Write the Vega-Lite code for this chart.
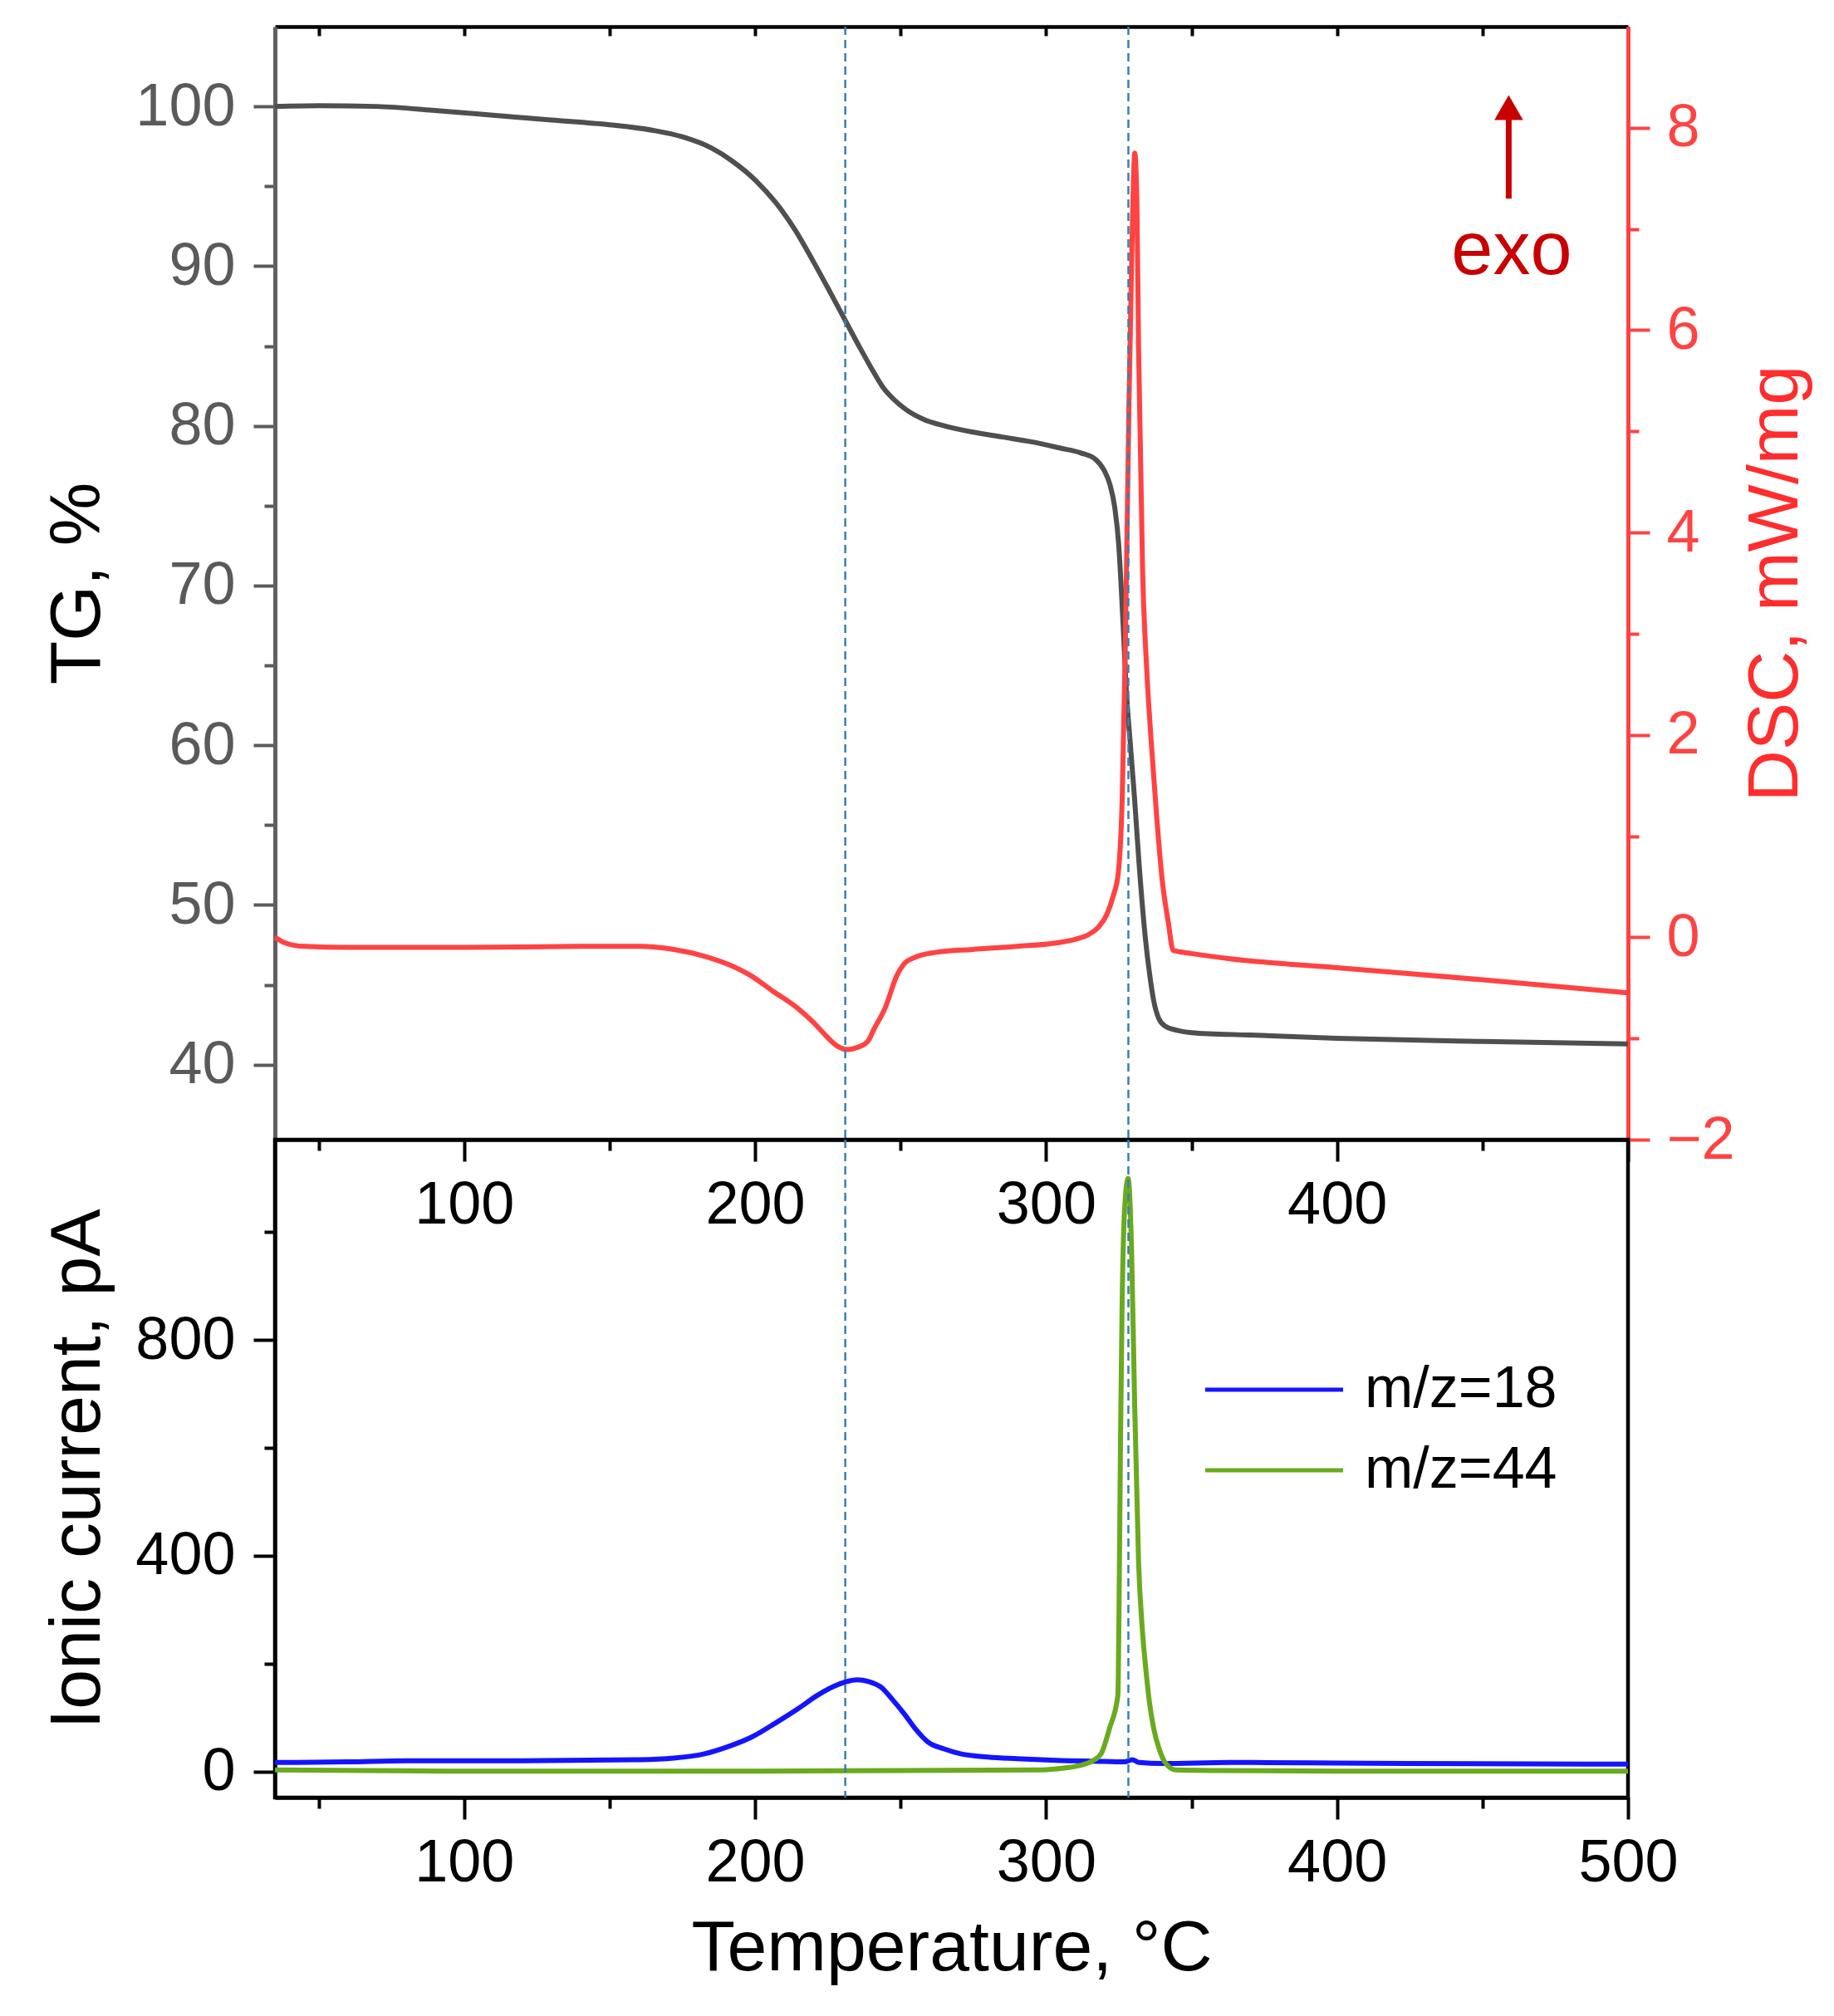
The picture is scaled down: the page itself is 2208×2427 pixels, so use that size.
{
  "$schema": "https://vega.github.io/schema/vega-lite/v6.json",
  "background": "white",
  "padding": {"left": 47, "top": 30, "right": 10, "bottom": 10},
  "autosize": {"type": "pad"},
  "spacing": 0,
  "bounds": "flush",
  "config": {
    "view": {"stroke": null},
    "axis": {"labelFont": "Liberation Sans", "titleFont": "Liberation Sans", "titleFontWeight": "normal", "grid": false, "labelFlush": false, "labelOverlap": false},
    "legend": {"labelFont": "Liberation Sans"},
    "text": {"font": "Liberation Sans"}
  },
  "datasets": {
    "tg": [
      {"T": 35, "TG": 100.0}, {"T": 50, "TG": 100.05}, {"T": 70, "TG": 100.0}, {"T": 90, "TG": 99.75},
      {"T": 110, "TG": 99.45}, {"T": 130, "TG": 99.15}, {"T": 150, "TG": 98.85}, {"T": 165, "TG": 98.5},
      {"T": 175, "TG": 98.1}, {"T": 185, "TG": 97.4}, {"T": 192, "TG": 96.6}, {"T": 200, "TG": 95.4},
      {"T": 207, "TG": 94.0}, {"T": 214, "TG": 92.2}, {"T": 220, "TG": 90.3}, {"T": 226, "TG": 88.3},
      {"T": 231, "TG": 86.6}, {"T": 236, "TG": 84.9}, {"T": 240, "TG": 83.6}, {"T": 244, "TG": 82.4},
      {"T": 248, "TG": 81.6}, {"T": 252, "TG": 81.0}, {"T": 258, "TG": 80.4}, {"T": 265, "TG": 80.0},
      {"T": 275, "TG": 79.6}, {"T": 285, "TG": 79.3}, {"T": 295, "TG": 79.0}, {"T": 305, "TG": 78.6},
      {"T": 312, "TG": 78.3}, {"T": 317, "TG": 77.9}, {"T": 320, "TG": 77.2}, {"T": 322, "TG": 76.3},
      {"T": 323.6, "TG": 74.9}, {"T": 325, "TG": 72.5}, {"T": 325.6, "TG": 70.7}, {"T": 326.5, "TG": 67.5},
      {"T": 327.5, "TG": 63.7}, {"T": 329, "TG": 60.0}, {"T": 330.4, "TG": 56.7}, {"T": 332, "TG": 52.5},
      {"T": 334.2, "TG": 47.8}, {"T": 335.5, "TG": 45.8}, {"T": 337, "TG": 44.0}, {"T": 338.7, "TG": 42.9},
      {"T": 341, "TG": 42.4}, {"T": 345, "TG": 42.15}, {"T": 350, "TG": 42.0}, {"T": 370, "TG": 41.85},
      {"T": 400, "TG": 41.65}, {"T": 450, "TG": 41.45}, {"T": 500, "TG": 41.3}
    ],
    "dsc": [
      {"T": 35, "DSC": 0.0}, {"T": 38, "DSC": -0.05}, {"T": 45, "DSC": -0.09}, {"T": 60, "DSC": -0.1},
      {"T": 100, "DSC": -0.1}, {"T": 140, "DSC": -0.09}, {"T": 160, "DSC": -0.09}, {"T": 172, "DSC": -0.12},
      {"T": 183, "DSC": -0.19}, {"T": 191, "DSC": -0.27}, {"T": 198.6, "DSC": -0.38}, {"T": 206, "DSC": -0.53},
      {"T": 214.6, "DSC": -0.7}, {"T": 220, "DSC": -0.84}, {"T": 224.6, "DSC": -0.98}, {"T": 228, "DSC": -1.07},
      {"T": 231.7, "DSC": -1.11}, {"T": 235, "DSC": -1.09}, {"T": 238.7, "DSC": -1.03}, {"T": 241, "DSC": -0.9},
      {"T": 244.7, "DSC": -0.7}, {"T": 248.7, "DSC": -0.38}, {"T": 251, "DSC": -0.27}, {"T": 254.8, "DSC": -0.2},
      {"T": 262, "DSC": -0.15}, {"T": 274.8, "DSC": -0.12}, {"T": 290, "DSC": -0.09}, {"T": 304.8, "DSC": -0.05},
      {"T": 310, "DSC": -0.02}, {"T": 314.8, "DSC": 0.03}, {"T": 318, "DSC": 0.1}, {"T": 320.8, "DSC": 0.22},
      {"T": 323, "DSC": 0.4}, {"T": 324.8, "DSC": 0.63}, {"T": 326.2, "DSC": 1.4}, {"T": 327.2, "DSC": 2.8},
      {"T": 328.5, "DSC": 5.27}, {"T": 329.5, "DSC": 6.8}, {"T": 330.5, "DSC": 7.75}, {"T": 331.2, "DSC": 7.3},
      {"T": 331.8, "DSC": 5.82}, {"T": 333.2, "DSC": 3.6}, {"T": 334.5, "DSC": 2.7}, {"T": 336.1, "DSC": 1.95},
      {"T": 338, "DSC": 1.2}, {"T": 339.9, "DSC": 0.57}, {"T": 342, "DSC": 0.15}, {"T": 343.7, "DSC": -0.13},
      {"T": 350, "DSC": -0.16}, {"T": 362.7, "DSC": -0.21}, {"T": 400, "DSC": -0.3}, {"T": 450, "DSC": -0.42},
      {"T": 500, "DSC": -0.55}
    ],
    "ms": [
      {"T": 35, "I": 17, "series": "m/z=18"}, {"T": 60, "I": 18, "series": "m/z=18"}, {"T": 80, "I": 20, "series": "m/z=18"},
      {"T": 120, "I": 20, "series": "m/z=18"}, {"T": 160, "I": 22, "series": "m/z=18"}, {"T": 172, "I": 25, "series": "m/z=18"},
      {"T": 182.6, "I": 33, "series": "m/z=18"}, {"T": 190, "I": 45, "series": "m/z=18"}, {"T": 198.8, "I": 64, "series": "m/z=18"},
      {"T": 207, "I": 90, "series": "m/z=18"}, {"T": 214.9, "I": 117, "series": "m/z=18"}, {"T": 221, "I": 140, "series": "m/z=18"},
      {"T": 227, "I": 158, "series": "m/z=18"}, {"T": 231, "I": 166, "series": "m/z=18"}, {"T": 235, "I": 170, "series": "m/z=18"},
      {"T": 239, "I": 167, "series": "m/z=18"}, {"T": 243.4, "I": 156, "series": "m/z=18"}, {"T": 247, "I": 135, "series": "m/z=18"},
      {"T": 251.4, "I": 106, "series": "m/z=18"}, {"T": 255, "I": 80, "series": "m/z=18"}, {"T": 259.4, "I": 55, "series": "m/z=18"},
      {"T": 265, "I": 42, "series": "m/z=18"}, {"T": 270.7, "I": 33, "series": "m/z=18"}, {"T": 280, "I": 27, "series": "m/z=18"},
      {"T": 290, "I": 24, "series": "m/z=18"}, {"T": 303.6, "I": 21, "series": "m/z=18"}, {"T": 320, "I": 19, "series": "m/z=18"},
      {"T": 327, "I": 18, "series": "m/z=18"}, {"T": 329.6, "I": 22, "series": "m/z=18"}, {"T": 332, "I": 17, "series": "m/z=18"},
      {"T": 340, "I": 15, "series": "m/z=18"}, {"T": 363, "I": 17, "series": "m/z=18"}, {"T": 400, "I": 16, "series": "m/z=18"},
      {"T": 423.8, "I": 15, "series": "m/z=18"}, {"T": 500, "I": 14, "series": "m/z=18"},
      {"T": 35, "I": 3, "series": "m/z=44"}, {"T": 100, "I": 1, "series": "m/z=44"}, {"T": 200, "I": 1, "series": "m/z=44"},
      {"T": 250, "I": 2, "series": "m/z=44"}, {"T": 297, "I": 3, "series": "m/z=44"}, {"T": 305, "I": 6, "series": "m/z=44"},
      {"T": 311.3, "I": 11, "series": "m/z=44"}, {"T": 316, "I": 20, "series": "m/z=44"}, {"T": 319, "I": 34, "series": "m/z=44"},
      {"T": 321.8, "I": 80, "series": "m/z=44"}, {"T": 324.7, "I": 142, "series": "m/z=44"}, {"T": 325.1, "I": 311, "series": "m/z=44"},
      {"T": 325.6, "I": 618, "series": "m/z=44"}, {"T": 326.1, "I": 849, "series": "m/z=44"}, {"T": 327, "I": 1042, "series": "m/z=44"},
      {"T": 328.2, "I": 1099, "series": "m/z=44"}, {"T": 329.4, "I": 965, "series": "m/z=44"}, {"T": 330.4, "I": 695, "series": "m/z=44"},
      {"T": 331.8, "I": 388, "series": "m/z=44"}, {"T": 333, "I": 270, "series": "m/z=44"}, {"T": 334.2, "I": 195, "series": "m/z=44"},
      {"T": 335.5, "I": 130, "series": "m/z=44"}, {"T": 337, "I": 80, "series": "m/z=44"}, {"T": 339, "I": 40, "series": "m/z=44"},
      {"T": 340.8, "I": 18, "series": "m/z=44"}, {"T": 344.6, "I": 3, "series": "m/z=44"}, {"T": 360, "I": 2, "series": "m/z=44"},
      {"T": 400, "I": 1, "series": "m/z=44"}, {"T": 500, "I": 1, "series": "m/z=44"}
    ],
    "vlines": [{"T": 231}, {"T": 328.3}],
    "one": [{}]
  },
  "vconcat": [
    {
      "width": 1629,
      "height": 1340,
      "resolve": {"scale": {"x": "independent", "y": "independent"}, "axis": {"x": "independent", "y": "independent"}},
      "layer": [
        {
          "data": {"name": "tg"},
          "mark": {"type": "line", "color": "#4f4f4f", "strokeWidth": 6, "interpolate": "monotone"},
          "encoding": {
            "x": {"field": "T", "type": "quantitative", "scale": {"domain": [35, 500], "nice": false, "zero": false},
              "axis": {"orient": "bottom", "title": null, "values": [50, 100, 150, 200, 250, 300, 350, 400, 450, 500],
                "labelExpr": "datum.value % 100 == 0 && datum.value < 500 ? datum.label : ''",
                "tickSize": {"condition": {"test": "datum.value % 100 != 0", "value": 13}, "value": 26},
                "tickWidth": 4, "tickColor": "black", "domainColor": "black", "domainWidth": 4.5,
                "labelPadding": 17, "labelFontSize": 72, "labelColor": "black"}},
            "y": {"field": "TG", "type": "quantitative", "scale": {"domain": [35.3, 105], "nice": false, "zero": false},
              "axis": {"orient": "left", "title": "TG, %", "titleFontSize": 86, "titleColor": "black", "titlePadding": 21,
                "values": [40, 45, 50, 55, 60, 65, 70, 75, 80, 85, 90, 95, 100],
                "labelExpr": "datum.value % 10 == 0 ? datum.label : ''",
                "tickSize": {"condition": {"test": "datum.value % 10 != 0", "value": 13}, "value": 26},
                "tickWidth": 4, "tickColor": "#5a5a5a", "domainColor": "#606060", "domainWidth": 5,
                "labelPadding": 22, "labelFontSize": 72, "labelColor": "#5a5a5a",
                "minExtent": 173, "maxExtent": 173}}
          }
        },
        {
          "layer": [
            {
              "data": {"name": "dsc"},
              "mark": {"type": "line", "color": "#ff4242", "strokeWidth": 6, "interpolate": "monotone"},
              "encoding": {
                "x": {"field": "T", "type": "quantitative", "scale": {"domain": [35, 500], "nice": false, "zero": false},
                  "axis": {"orient": "top", "title": null, "values": [50, 100, 150, 200, 250, 300, 350, 400, 450, 500],
                    "labels": false, "tickSize": -11, "tickWidth": 4, "tickColor": "black", "domainColor": "black", "domainWidth": 4.5}},
                "y": {"field": "DSC", "type": "quantitative", "scale": {"domain": [-2, 9], "nice": false, "zero": false},
                  "axis": {"orient": "right", "title": "DSC, mW/mg", "titleFontSize": 86, "titleColor": "#ff2d2d",
                    "titleAngle": 270, "titleBaseline": "alphabetic", "titlePadding": 73,
                    "values": [-2, -1, 0, 1, 2, 3, 4, 5, 6, 7, 8], "format": "d",
                    "labelExpr": "datum.value % 2 == 0 ? datum.label : ''",
                    "tickSize": {"condition": {"test": "datum.value % 2 != 0", "value": 13}, "value": 26},
                    "tickWidth": 4, "tickColor": "#ff4242", "domainColor": "#ff4242", "domainWidth": 5,
                    "labelPadding": 20, "labelFontSize": 72, "labelColor": "#ff4242",
                    "minExtent": 130, "maxExtent": 130}}
              }
            },
            {
              "data": {"name": "one"},
              "mark": {"type": "rule", "color": "#c80000", "strokeWidth": 7},
              "encoding": {
                "x": {"datum": 459, "type": "quantitative", "scale": {"domain": [35, 500], "nice": false, "zero": false}},
                "y": {"datum": 7.3, "type": "quantitative", "scale": {"domain": [-2, 9], "nice": false, "zero": false}},
                "y2": {"datum": 8.12}
              }
            },
            {
              "data": {"name": "one"},
              "mark": {"type": "point", "shape": "triangle-up", "filled": true, "color": "#c80000", "opacity": 1, "size": 1200},
              "encoding": {
                "x": {"datum": 459, "type": "quantitative", "scale": {"domain": [35, 500], "nice": false, "zero": false}},
                "y": {"datum": 8.2, "type": "quantitative", "scale": {"domain": [-2, 9], "nice": false, "zero": false}}
              }
            },
            {
              "data": {"name": "one"},
              "mark": {"type": "text", "text": "exo", "color": "#c80000", "fontSize": 90, "align": "center", "baseline": "alphabetic"},
              "encoding": {
                "x": {"datum": 460, "type": "quantitative", "scale": {"domain": [35, 500], "nice": false, "zero": false}},
                "y": {"datum": 6.55, "type": "quantitative", "scale": {"domain": [-2, 9], "nice": false, "zero": false}}
              }
            }
          ]
        },
        {
          "data": {"name": "vlines"},
          "mark": {"type": "rule", "color": "#3a7fae", "strokeWidth": 2.5, "strokeDash": [10, 6]},
          "encoding": {
            "x": {"field": "T", "type": "quantitative", "scale": {"domain": [35, 500], "nice": false, "zero": false}, "axis": null}
          }
        }
      ]
    },
    {
      "width": 1629,
      "height": 792,
      "view": {"stroke": "black", "strokeWidth": 4.5},
      "resolve": {"scale": {"x": "independent", "y": "independent"}, "axis": {"x": "independent", "y": "independent"}},
      "layer": [
        {
          "data": {"name": "ms"},
          "mark": {"type": "line", "strokeWidth": 6, "interpolate": "monotone"},
          "encoding": {
            "x": {"field": "T", "type": "quantitative", "scale": {"domain": [35, 500], "nice": false, "zero": false},
              "axis": {"orient": "bottom", "title": "Temperature, °C", "titleFontSize": 86, "titleColor": "black", "titlePadding": 25,
                "values": [50, 100, 150, 200, 250, 300, 350, 400, 450, 500],
                "labelExpr": "datum.value % 100 == 0 ? datum.label : ''",
                "tickSize": {"condition": {"test": "datum.value % 100 != 0", "value": 13}, "value": 26},
                "tickWidth": 4, "tickColor": "black", "domainColor": "black", "domainWidth": 4.5,
                "labelPadding": 17, "labelFontSize": 72, "labelColor": "black"}},
            "y": {"field": "I", "type": "quantitative", "scale": {"domain": [-48, 1171], "nice": false, "zero": false},
              "axis": {"orient": "left", "title": "Ionic current, pA", "titleFontSize": 86, "titleColor": "black", "titlePadding": 21,
                "values": [0, 200, 400, 600, 800, 1000],
                "labelExpr": "datum.value % 400 == 0 ? datum.label : ''",
                "tickSize": {"condition": {"test": "datum.value % 400 != 0", "value": 13}, "value": 26},
                "tickWidth": 4, "tickColor": "black", "domainColor": "black", "domainWidth": 4.5,
                "labelPadding": 22, "labelFontSize": 72, "labelColor": "black",
                "minExtent": 173, "maxExtent": 173}},
            "color": {"field": "series", "type": "nominal",
              "scale": {"domain": ["m/z=18", "m/z=44"], "range": ["#1414ff", "#6aaa1e"]},
              "legend": {"orient": "none", "legendX": 1167, "legendY": 1605, "title": null,
                "symbolType": "M-2.5,0H2.5", "symbolSize": 4409, "symbolStrokeWidth": 5,
                "labelFontSize": 70, "labelColor": "black", "labelOffset": 73, "rowPadding": 26, "labelLimit": 0}}
          }
        },
        {
          "data": {"name": "vlines"},
          "mark": {"type": "rule", "color": "#3a7fae", "strokeWidth": 2.5, "strokeDash": [10, 6]},
          "encoding": {
            "x": {"field": "T", "type": "quantitative", "scale": {"domain": [35, 500], "nice": false, "zero": false}, "axis": null}
          }
        }
      ]
    }
  ]
}
